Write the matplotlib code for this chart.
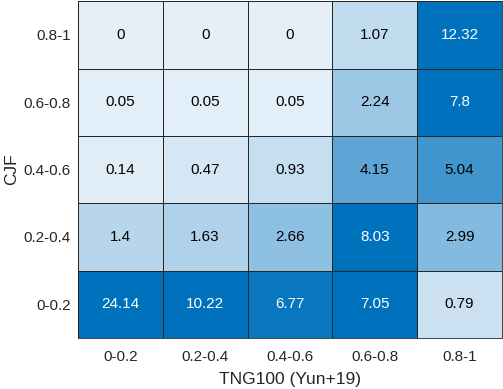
import numpy as np
import matplotlib.pyplot as plt
from matplotlib.colors import LinearSegmentedColormap

plt.rcParams['font.family'] = ['Liberation Sans', 'DejaVu Sans']

# etiquetas de los ejes
x_labels = ['0-0.2', '0.2-0.4', '0.4-0.6', '0.6-0.8', '0.8-1']
y_labels = ['0-0.2', '0.2-0.4', '0.4-0.6', '0.6-0.8', '0.8-1']

# valores por fila de CJF (de abajo hacia arriba)
row_00_02 = [24.14, 10.22, 6.77, 7.05, 0.79]
row_02_04 = [1.4, 1.63, 2.66, 8.03, 2.99]
row_04_06 = [0.14, 0.47, 0.93, 4.15, 5.04]
row_06_08 = [0.05, 0.05, 0.05, 2.24, 7.8]
row_08_1 = [0, 0, 0, 1.07, 12.32]

data = np.array([row_00_02, row_02_04, row_04_06, row_06_08, row_08_1])

# mapa de colores tipo heatmap de MATLAB
cmap = LinearSegmentedColormap.from_list('mblue', [(228/255, 239/255, 248/255), (0, 114/255, 189/255)])

fig = plt.figure(figsize=(5.03, 3.89), dpi=100)
ax = fig.add_axes([0.155, 0.131, 0.843, 0.866])

ax.pcolormesh(np.arange(6), np.arange(6), data, cmap=cmap, vmin=0, vmax=7.05,
              edgecolors='#262626', linewidth=0.5)

for i in range(data.shape[0]):
    for j in range(data.shape[1]):
        v = data[i, j]
        color = 'white' if v > 6 else 'black'
        ax.text(j + 0.5, i + 0.5, f'{v:g}', ha='center', va='center', fontsize=11, color=color)

ax.set_xticks(np.arange(5) + 0.5)
ax.set_xticklabels(x_labels, fontsize=11, color='#262626')
ax.set_yticks(np.arange(5) + 0.5)
ax.set_yticklabels(y_labels, fontsize=11, color='#262626')
ax.tick_params(axis='x', length=0, pad=8.5)
ax.tick_params(axis='y', length=0, pad=5)
ax.set_xlim(0, 5)
ax.set_ylim(0, 5)
for s in ax.spines.values():
    s.set_color('#262626')
    s.set_linewidth(0.6)

ax.set_xlabel('TNG100 (Yun+19)', fontsize=12.5, color='#262626', labelpad=6)
ax.set_ylabel('CJF', fontsize=12.5, color='#262626', labelpad=3)

fig.savefig('out.png', dpi=100)
